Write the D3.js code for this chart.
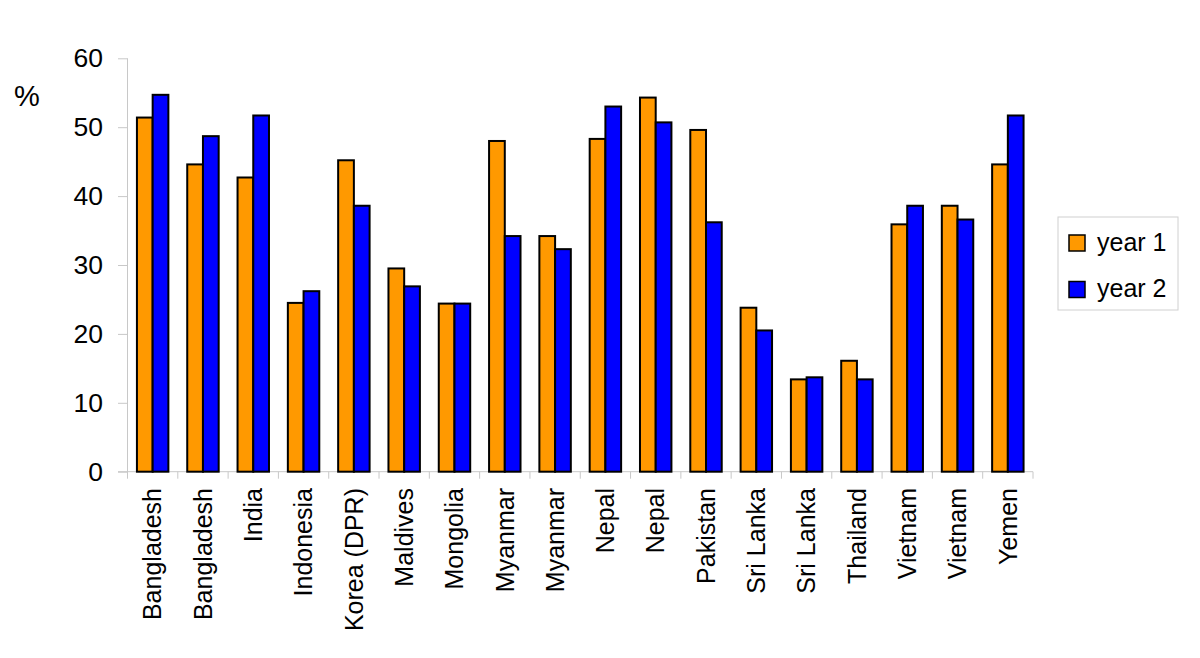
<!DOCTYPE html>
<html>
<head>
<meta charset="utf-8">
<script src="https://cdn.jsdelivr.net/npm/d3@7"></script>
<style>
  body { margin: 0; background: #fff; }
  svg text { font-family: "Liberation Sans", Arial, sans-serif; fill: #000; }
</style>
</head>
<body>
<svg id="chart" width="1200" height="658"></svg>
<script>
// values
const countries = ["Bangladesh", "Bangladesh", "India", "Indonesia", "Korea (DPR)", "Maldives",
  "Mongolia", "Myanmar", "Myanmar", "Nepal", "Nepal", "Pakistan", "Sri Lanka", "Sri Lanka",
  "Thailand", "Vietnam", "Vietnam", "Yemen"];
const year1 = [51.4, 44.6, 42.7, 24.5, 45.2, 29.5, 24.4, 48.0, 34.2, 48.3, 54.3, 49.6, 23.8, 13.4, 16.1, 35.9, 38.6, 44.6];
const year2 = [54.7, 48.7, 51.7, 26.2, 38.6, 26.9, 24.4, 34.2, 32.3, 53.0, 50.7, 36.2, 20.5, 13.7, 13.4, 38.6, 36.6, 51.7];
const seriesNames = ["year 1", "year 2"];
const seriesColors = ["#ff9900", "#0000ff"];
const yTicks = [0, 10, 20, 30, 40, 50, 60];

const svg = d3.select("#chart");
const plotLeft = 127.5, plotRight = 1033, plotTop = 58.3, plotBottom = 471.7;
const axisGrey = "#c8c8c8";

const idx = countries.map((d, i) => i);
const x0 = d3.scaleBand().domain(idx).range([plotLeft, plotRight]).padding(0);
const x1 = d3.scaleBand().domain([0, 1]).range([0, x0.bandwidth()]).paddingInner(0).paddingOuter(0.6);
const y = d3.scaleLinear().domain([0, 60]).range([plotBottom, plotTop]);

// y axis
const yAxis = svg.append("g")
  .attr("transform", `translate(${plotLeft},0)`)
  .call(d3.axisLeft(y).tickValues(yTicks).tickSize(9.5).tickPadding(15));
yAxis.selectAll("path, line").attr("stroke", axisGrey);
yAxis.select(".domain").attr("d", `M0,${plotBottom}V${plotTop}`);
yAxis.selectAll("text").style("font-size", "26.5px").attr("font-family", null);

// x axis line and category ticks
svg.append("line")
  .attr("x1", plotLeft - 9.5).attr("x2", plotRight)
  .attr("y1", plotBottom).attr("y2", plotBottom)
  .attr("stroke", axisGrey);
svg.append("g").selectAll("line")
  .data(idx.concat([countries.length]))
  .join("line")
  .attr("x1", d => d < countries.length ? x0(d) : plotRight)
  .attr("x2", d => d < countries.length ? x0(d) : plotRight)
  .attr("y1", plotBottom).attr("y2", plotBottom + 7)
  .attr("stroke", axisGrey);

// bars
const groups = svg.append("g").selectAll("g")
  .data(idx)
  .join("g")
  .attr("transform", i => `translate(${x0(i)},0)`);
groups.selectAll("rect")
  .data(i => [year1[i], year2[i]].map((v, s) => ({ v, s })))
  .join("rect")
  .attr("x", d => x1(d.s))
  .attr("width", x1.bandwidth())
  .attr("y", d => y(d.v))
  .attr("height", d => plotBottom - y(d.v))
  .attr("fill", d => seriesColors[d.s])
  .attr("stroke", "#000")
  .attr("stroke-width", 2);

// category labels
svg.append("g").selectAll("text")
  .data(idx)
  .join("text")
  .attr("transform", i => `translate(${x0(i) + x0.bandwidth() / 2},488) rotate(-90)`)
  .attr("text-anchor", "end")
  .attr("dy", "0.35em")
  .style("font-size", "25px")
  .text(i => countries[i]);

// unit label
svg.append("text")
  .attr("x", 14).attr("y", 106)
  .style("font-size", "29px")
  .text("%");

// legend
const legend = svg.append("g");
legend.append("rect")
  .attr("x", 1058).attr("y", 217).attr("width", 120).attr("height", 93)
  .attr("fill", "#fff").attr("stroke", "#d0d0d0");
const items = legend.selectAll("g.item")
  .data(seriesNames)
  .join("g")
  .attr("class", "item")
  .attr("transform", (d, i) => `translate(1069,${235 + i * 46.5})`);
items.append("rect")
  .attr("width", 16).attr("height", 16)
  .attr("fill", (d, i) => seriesColors[i])
  .attr("stroke", "#000").attr("stroke-width", 1.5);
items.append("text")
  .attr("x", 28).attr("y", 15.5)
  .style("font-size", "25px")
  .text(d => d);
</script>
</body>
</html>
